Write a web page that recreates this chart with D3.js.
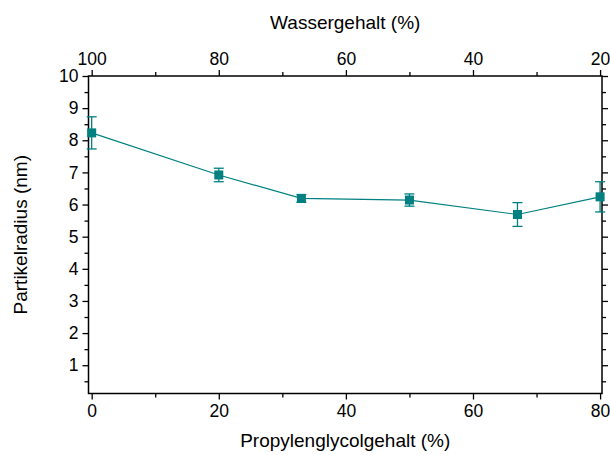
<!DOCTYPE html>
<html>
<head>
<meta charset="utf-8">
<script src="https://cdn.jsdelivr.net/npm/d3@7"></script>
<style>
  body { margin: 0; background: #fff; }
  text { font-family: "Liberation Sans", Arial, sans-serif; fill: #000; }
</style>
</head>
<body>
<script>
// data
var pgContent = [0, 20, 33, 50, 67, 80];
var radius    = [8.23, 6.92, 6.19, 6.14, 5.69, 6.24];
var radiusErr = [0.50, 0.21, 0.12, 0.19, 0.37, 0.47];

var bottomTicks = [0, 20, 40, 60, 80];
var bottomMinor = [10, 30, 50, 70];
var topTicks = [100, 80, 60, 40, 20];
var topMinor = [90, 70, 50, 30];
var yTicks = [1, 2, 3, 4, 5, 6, 7, 8, 9, 10];
var yMinor = [0.5, 1.5, 2.5, 3.5, 4.5, 5.5, 6.5, 7.5, 8.5, 9.5];

var width = 610, height = 455;
// plot frame (named so they don't clash with window.top)
var pLeft = 88.5, pRight = 602, pTop = 76, pBottom = 393.5;
var teal = "#008080";
var fs = 17.5, titleFs = 19;

var svg = d3.select("body").append("svg")
    .attr("width", width)
    .attr("height", height);

var x = d3.scaleLinear().domain([-0.5, 80.3]).range([pLeft, pRight]);
var xTop = d3.scaleLinear().domain([100.5, 19.7]).range([pLeft, pRight]);
var y = d3.scaleLinear().domain([0.12, 10]).range([pBottom, pTop]);

function styleAxis(g) {
  g.select(".domain").remove();
  g.selectAll(".tick line").attr("stroke", "#000").attr("stroke-width", 1.3);
  g.selectAll(".tick text").style("font-size", fs + "px").style("font-family", "Liberation Sans, Arial, sans-serif");
}

// bottom axis
svg.append("g").attr("transform", "translate(0," + pBottom + ")")
  .call(d3.axisBottom(x).tickValues(bottomTicks).tickSize(6).tickPadding(5).tickFormat(d3.format("d")))
  .call(styleAxis);
svg.append("g").attr("transform", "translate(0," + pBottom + ")")
  .call(d3.axisBottom(x).tickValues(bottomMinor).tickSize(4).tickFormat(""))
  .call(styleAxis);

// top axis
svg.append("g").attr("transform", "translate(0," + pTop + ")")
  .call(d3.axisTop(xTop).tickValues(topTicks).tickSize(6).tickPadding(5).tickFormat(d3.format("d")))
  .call(styleAxis);
svg.append("g").attr("transform", "translate(0," + pTop + ")")
  .call(d3.axisTop(xTop).tickValues(topMinor).tickSize(4).tickFormat(""))
  .call(styleAxis);

// left axis
svg.append("g").attr("transform", "translate(" + pLeft + ",0)")
  .call(d3.axisLeft(y).tickValues(yTicks).tickSize(6).tickPadding(4).tickFormat(d3.format("d")))
  .call(styleAxis);
svg.append("g").attr("transform", "translate(" + pLeft + ",0)")
  .call(d3.axisLeft(y).tickValues(yMinor).tickSize(4).tickFormat(""))
  .call(styleAxis);

// right axis, ticks only
svg.append("g").attr("transform", "translate(" + pRight + ",0)")
  .call(d3.axisRight(y).tickValues(yTicks).tickSize(6).tickFormat(""))
  .call(styleAxis);
svg.append("g").attr("transform", "translate(" + pRight + ",0)")
  .call(d3.axisRight(y).tickValues(yMinor).tickSize(4).tickFormat(""))
  .call(styleAxis);

// frame
svg.append("rect")
  .attr("x", pLeft).attr("y", pTop)
  .attr("width", pRight - pLeft).attr("height", pBottom - pTop)
  .attr("fill", "none").attr("stroke", "#000").attr("stroke-width", 1.5);

// data
var pts = pgContent.map(function(d, i) { return { x: d, y: radius[i], e: radiusErr[i] }; });

svg.append("path")
  .datum(pts)
  .attr("fill", "none")
  .attr("stroke", teal)
  .attr("stroke-width", 1.2)
  .attr("d", d3.line().x(function(d) { return x(d.x); }).y(function(d) { return y(d.y); }));

var err = svg.append("g").attr("stroke", teal).attr("stroke-width", 1.3);
err.selectAll(".bar").data(pts).enter().append("line")
  .attr("x1", function(d) { return x(d.x); }).attr("x2", function(d) { return x(d.x); })
  .attr("y1", function(d) { return y(d.y + d.e); }).attr("y2", function(d) { return y(d.y - d.e); });
err.selectAll(".capTop").data(pts).enter().append("line")
  .attr("x1", function(d) { return x(d.x) - 5; }).attr("x2", function(d) { return x(d.x) + 5; })
  .attr("y1", function(d) { return y(d.y + d.e); }).attr("y2", function(d) { return y(d.y + d.e); });
err.selectAll(".capBot").data(pts).enter().append("line")
  .attr("x1", function(d) { return x(d.x) - 5; }).attr("x2", function(d) { return x(d.x) + 5; })
  .attr("y1", function(d) { return y(d.y - d.e); }).attr("y2", function(d) { return y(d.y - d.e); });

svg.append("g").selectAll("rect").data(pts).enter().append("rect")
  .attr("x", function(d) { return x(d.x) - 4.5; })
  .attr("y", function(d) { return y(d.y) - 4.5; })
  .attr("width", 9).attr("height", 9)
  .attr("fill", teal);

// axis titles
svg.append("text")
  .attr("x", (pLeft + pRight) / 2).attr("y", 447)
  .attr("text-anchor", "middle").style("font-size", titleFs + "px")
  .text("Propylenglycolgehalt (%)");
svg.append("text")
  .attr("x", (pLeft + pRight) / 2).attr("y", 29)
  .attr("text-anchor", "middle").style("font-size", titleFs + "px")
  .text("Wassergehalt (%)");
svg.append("text")
  .attr("transform", "translate(27," + (pTop + pBottom) / 2 + ") rotate(-90)")
  .attr("text-anchor", "middle").style("font-size", titleFs + "px")
  .text("Partikelradius (nm)");
</script>
</body>
</html>
